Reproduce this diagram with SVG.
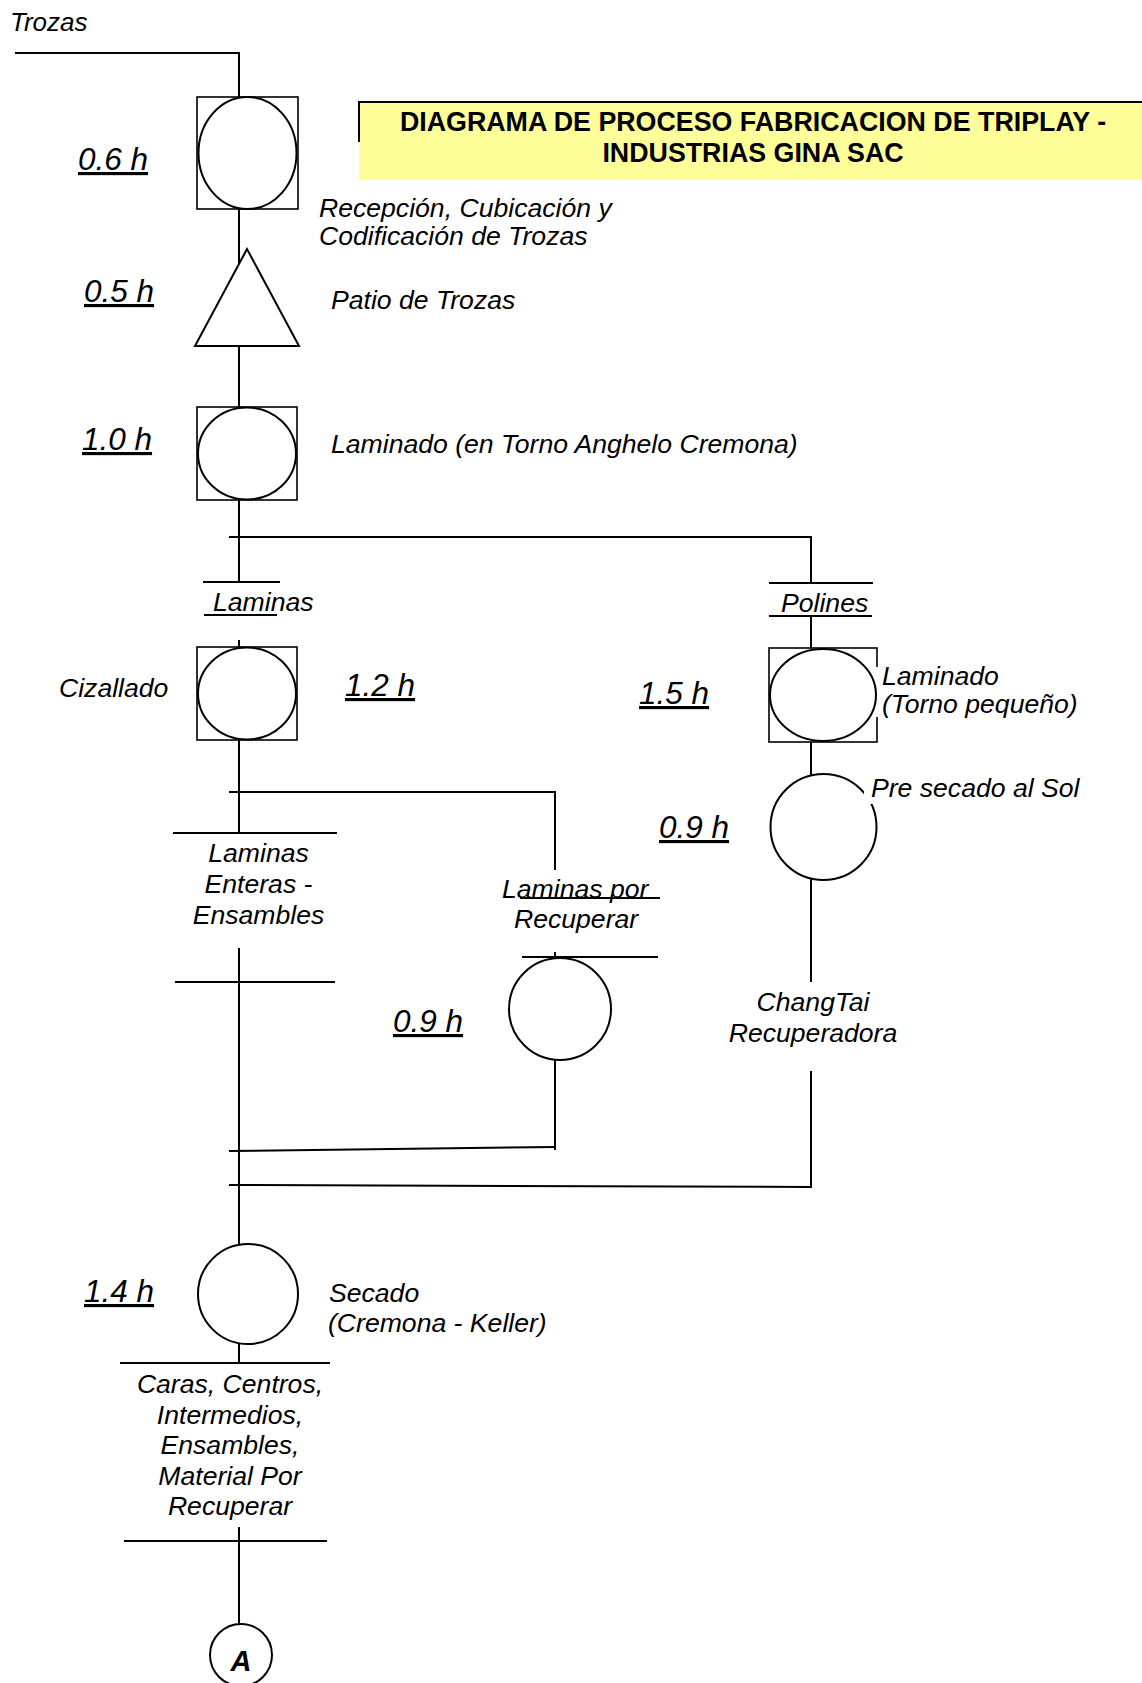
<svg xmlns="http://www.w3.org/2000/svg" width="1142" height="1683" viewBox="0 0 1142 1683">
<style>
.ln{stroke:#000;stroke-width:2;fill:none}
.bx{stroke:#000;stroke-width:1.6;fill:#fff}
.sh{stroke:#000;stroke-width:2;fill:#fff}
.lb{font-family:"Liberation Sans",Arial,sans-serif;font-style:italic;font-size:26.6px;fill:#000}
.tm{font-family:"Liberation Sans",Arial,sans-serif;font-style:italic;font-size:31.5px;fill:#000;text-decoration:underline}
.ti{font-family:"Liberation Sans",Arial,sans-serif;font-weight:bold;font-size:26.8px;fill:#000}
.mid{text-anchor:middle}
.wh{fill:#fff;stroke:none}
</style>
<rect width="1142" height="1683" fill="#fff"/>

<g id="title">
<rect x="359" y="102" width="783" height="78" fill="#FFFF99"/>
<line x1="359" y1="102" x2="1142" y2="102" class="ln"/>
<line x1="359" y1="101" x2="359" y2="142" class="ln"/>
<text x="753" y="131" class="ti mid">DIAGRAMA DE PROCESO FABRICACION DE TRIPLAY -</text>
<text x="753" y="162" class="ti mid">INDUSTRIAS GINA SAC</text>
</g>

<g id="connectors">
<polyline points="15,53 239,53 239,97" class="ln"/>
<line x1="239" y1="209" x2="239" y2="300" class="ln"/>
<line x1="239" y1="346" x2="239" y2="407" class="ln"/>
<line x1="239" y1="500" x2="239" y2="582" class="ln"/>
<polyline points="229,537 811,537 811,583" class="ln"/>
<line x1="203" y1="582" x2="280" y2="582" class="ln"/>
<line x1="204" y1="615" x2="277" y2="615" class="ln"/>
<line x1="769" y1="583" x2="873" y2="583" class="ln"/>
<line x1="769" y1="616" x2="872" y2="616" class="ln"/>
<line x1="811" y1="616" x2="811" y2="648" class="ln"/>
<line x1="239" y1="640" x2="239" y2="647" class="ln"/>
<line x1="239" y1="740" x2="239" y2="833" class="ln"/>
<polyline points="229,792 555,792 555,870" class="ln"/>
<line x1="173" y1="833" x2="337" y2="833" class="ln"/>
<line x1="520" y1="898" x2="660" y2="898" class="ln"/>
<line x1="522" y1="957" x2="658" y2="957" class="ln"/>
<line x1="555" y1="952" x2="555" y2="960" class="ln"/>
<line x1="555" y1="1060" x2="555" y2="1150" class="ln"/>
<line x1="175" y1="982" x2="335" y2="982" class="ln"/>
<line x1="239" y1="948" x2="239" y2="1245" class="ln"/>
<line x1="229" y1="1151" x2="555" y2="1147" class="ln"/>
<line x1="811" y1="742" x2="811" y2="775" class="ln"/>
<line x1="811" y1="879" x2="811" y2="982" class="ln"/>
<line x1="811" y1="1071" x2="811" y2="1188" class="ln"/>
<line x1="229" y1="1185" x2="811" y2="1187" class="ln"/>
<line x1="239" y1="1343" x2="239" y2="1363" class="ln"/>
<line x1="120" y1="1363" x2="330" y2="1363" class="ln"/>
<line x1="124" y1="1541" x2="327" y2="1541" class="ln"/>
<line x1="239" y1="1527" x2="239" y2="1624" class="ln"/>
</g>

<text x="10" y="31" class="lb" style="font-size:26px">Trozas</text>

<g id="n-recepcion">
<rect x="197" y="97" width="101" height="112" class="bx"/>
<ellipse cx="247.5" cy="153" rx="49" ry="56" class="sh"/>
<text x="78" y="170" class="tm">0.6 h</text>
<text x="319" y="217" class="lb">Recepción, Cubicación y</text>
<text x="319" y="245" class="lb">Codificación de Trozas</text>
</g>

<g id="n-patio">
<polygon points="247,249 195,346 299,346" class="sh"/>
<text x="84" y="302" class="tm">0.5 h</text>
<text x="331" y="309" class="lb">Patio de Trozas</text>
</g>

<g id="n-laminado">
<rect x="197" y="407" width="100" height="93" class="bx"/>
<ellipse cx="247" cy="453.5" rx="49" ry="46" class="sh"/>
<text x="82" y="450" class="tm">1.0 h</text>
<text x="331" y="453" class="lb">Laminado (en Torno Anghelo Cremona)</text>
</g>

<g id="n-laminas">
<text x="213" y="611" class="lb">Laminas</text>
</g>

<g id="n-polines">
<text x="781" y="612" class="lb">Polines</text>
</g>

<g id="n-cizallado">
<rect x="197" y="647" width="100" height="93" class="bx"/>
<ellipse cx="247" cy="693.5" rx="49" ry="46" class="sh"/>
<text x="59" y="697" class="lb">Cizallado</text>
<text x="345" y="696" class="tm">1.2 h</text>
</g>

<g id="n-laminado-pequeno">
<rect x="769" y="648" width="108" height="94" class="bx"/>
<rect x="876" y="667" width="200" height="50" class="wh"/>
<ellipse cx="823" cy="695" rx="53" ry="46" class="sh"/>
<text x="639" y="704" class="tm">1.5 h</text>
<text x="882" y="685" class="lb">Laminado</text>
<text x="882" y="713" class="lb">(Torno pequeño)</text>
</g>

<g id="n-presecado">
<circle cx="823.5" cy="827" r="53" class="sh"/>
<rect x="864" y="776" width="220" height="28" class="wh"/>
<text x="871" y="797" class="lb">Pre secado al Sol</text>
<text x="659" y="838" class="tm">0.9 h</text>
</g>

<g id="n-laminas-enteras">
<text x="258.5" y="862" class="lb mid">Laminas</text>
<text x="258.5" y="893" class="lb mid">Enteras -</text>
<text x="258.5" y="924" class="lb mid">Ensambles</text>
</g>

<g id="n-laminas-recuperar">
<text x="502" y="898" class="lb">Laminas por</text>
<text x="514" y="928" class="lb">Recuperar</text>
<circle cx="560" cy="1009" r="51" class="sh"/>
<text x="393" y="1032" class="tm">0.9 h</text>
</g>

<g id="n-changtai">
<text x="813" y="1011" class="lb mid">ChangTai</text>
<text x="813" y="1042" class="lb mid">Recuperadora</text>
</g>

<g id="n-secado">
<circle cx="248" cy="1294" r="50" class="sh"/>
<text x="84" y="1302" class="tm">1.4 h</text>
<text x="329" y="1302" class="lb">Secado</text>
<text x="328" y="1332" class="lb">(Cremona - Keller)</text>
</g>

<g id="n-salida">
<text x="230" y="1393" class="lb mid">Caras, Centros,</text>
<text x="230" y="1424" class="lb mid">Intermedios,</text>
<text x="230" y="1454" class="lb mid">Ensambles,</text>
<text x="230" y="1485" class="lb mid">Material Por</text>
<text x="230" y="1515" class="lb mid">Recuperar</text>
</g>

<g id="n-A">
<circle cx="241" cy="1655" r="31" class="sh"/>
<text x="241" y="1671" class="lb mid" style="font-weight:bold;font-size:29px">A</text>
</g>
</svg>
